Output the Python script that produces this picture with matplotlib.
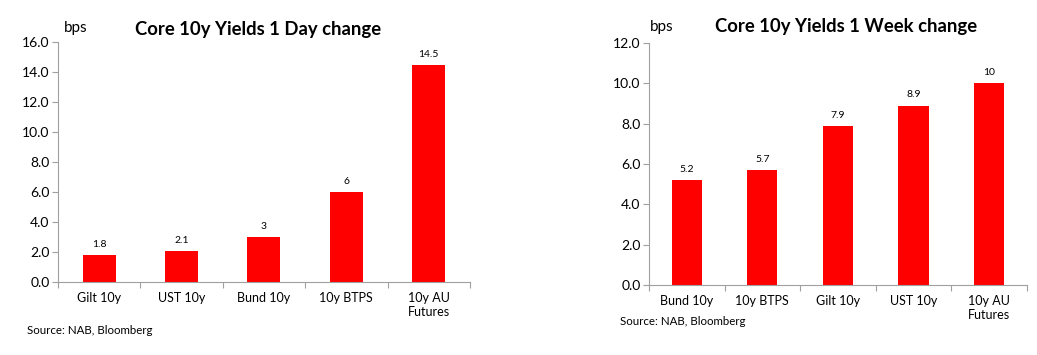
import numpy as np
import matplotlib.pyplot as plt

plt.rcParams['font.family'] = ['Lato', 'DejaVu Sans']

# 1 day change
day_labels = ['Gilt 10y', 'UST 10y', 'Bund 10y', '10y BTPS', '10y AU\nFutures']
day_values = [1.8, 2.1, 3, 6, 14.5]
day_text = ['1.8', '2.1', '3', '6', '14.5']

# 1 week change
week_labels = ['Bund 10y', '10y BTPS', 'Gilt 10y', 'UST 10y', '10y AU\nFutures']
week_values = [5.2, 5.7, 7.9, 8.9, 10]
week_text = ['5.2', '5.7', '7.9', '8.9', '10']

fig = plt.figure(figsize=(10.37, 3.55), dpi=100)
ax1 = fig.add_axes([0.0559, 0.2056, 0.3973, 0.676])
ax2 = fig.add_axes([0.6258, 0.1972, 0.3645, 0.6817])


def draw(ax, labels, values, texts, ymax):
    x = np.arange(len(values))
    ax.bar(x, values, width=0.4, color='#ff0000')
    for xi, v, t in zip(x, values, texts):
        ax.text(xi, v + ymax * 0.025, t, ha='center', va='bottom', fontsize=7.5)
    ax.set_xlim(-0.5, len(values) - 0.5)
    ax.set_ylim(0, ymax)
    ax.set_yticks(np.arange(0, ymax + 0.1, 2))
    ax.set_yticklabels([f'{t:.1f}' for t in np.arange(0, ymax + 0.1, 2)], fontsize=10)
    ax.set_xticks(np.arange(-0.5, len(values), 1))
    ax.set_xticklabels([])
    ax.set_xticks(x, minor=True)
    ax.set_xticklabels(labels, minor=True, fontsize=9)
    ax.tick_params(axis='x', which='minor', length=0, pad=7)
    ax.tick_params(axis='x', which='major', length=4, color='#a0a0a0')
    ax.tick_params(axis='y', length=4, color='#a0a0a0', pad=2)
    for s in ['top', 'right']:
        ax.spines[s].set_visible(False)
    for s in ['left', 'bottom']:
        ax.spines[s].set_color('#a0a0a0')


draw(ax1, day_labels, day_values, day_text, 16)
draw(ax2, week_labels, week_values, week_text, 12)

fig.text(0.249, 0.918, 'Core 10y Yields 1 Day change', ha='center', va='center',
         fontsize=13.3, fontweight='bold')
fig.text(0.816, 0.924, 'Core 10y Yields 1 Week change', ha='center', va='center',
         fontsize=13.3, fontweight='bold')
fig.text(0.062, 0.92, 'bps', ha='left', va='center', fontsize=11)
fig.text(0.627, 0.924, 'bps', ha='left', va='center', fontsize=11)
fig.text(0.026, 0.07, 'Source: NAB, Bloomberg', ha='left', va='center', fontsize=8.3)
fig.text(0.598, 0.093, 'Source: NAB, Bloomberg', ha='left', va='center', fontsize=8.3)

fig.savefig('out.png', dpi=100)
